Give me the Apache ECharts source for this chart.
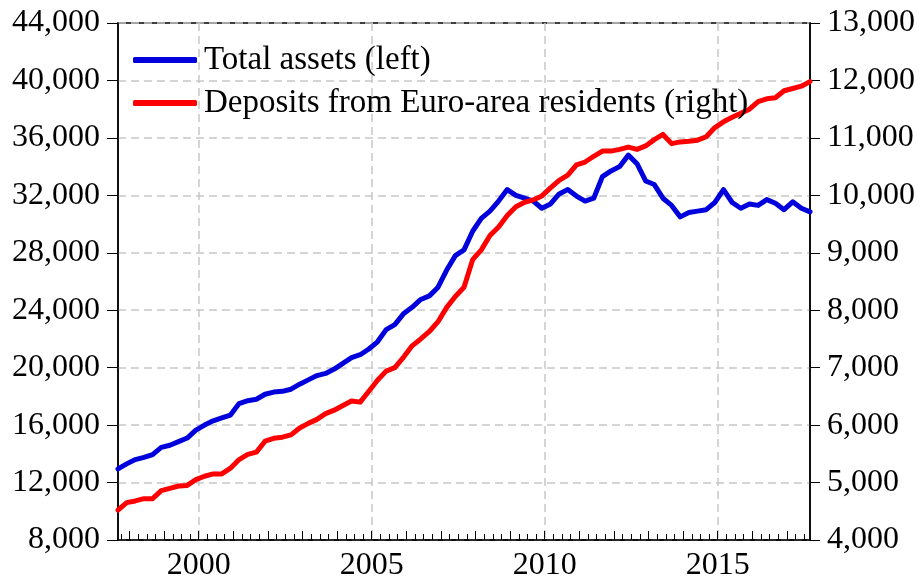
<!DOCTYPE html>
<html lang="en">

<head>
    <meta charset="UTF-8">
    <title>Total assets and deposits</title>
    <script src="https://cdn.jsdelivr.net/npm/echarts@6/dist/echarts.min.js"></script>
    <style>
        body { margin: 0; background: #fff; }
    </style>
</head>

<body>
    <div id="main" style="width:919px; height:582px"></div>
    <script>
        // quarterly readings, Sep 1997 .. Sep 2017
        var assets = [
            12950, 13300, 13600, 13750, 13950, 14450, 14600, 14850, 15100, 15650,
            16000, 16300, 16500, 16700, 17500, 17700, 17800, 18150, 18300, 18350,
            18500, 18850, 19150, 19450, 19600, 19900, 20300, 20700, 20900, 21300,
            21800, 22650, 23000, 23750, 24200, 24750, 25000, 25600, 26800, 27800,
            28200, 29500, 30400, 30900, 31600, 32400, 32000, 31800, 31600, 31100,
            31400, 32100, 32400, 31950, 31600, 31800, 33300, 33700, 34000, 34800,
            34200, 33000, 32750, 31800, 31300, 30500, 30800, 30900, 31000, 31500,
            32400, 31500, 31100, 31400, 31300, 31700, 31450, 31000, 31550, 31100,
            30850
        ]
        var deposits = [
            4520, 4650, 4680, 4720, 4720, 4860, 4900, 4940, 4950, 5050,
            5110, 5150, 5150, 5250, 5400, 5490, 5530, 5720, 5770, 5790,
            5830, 5950, 6030, 6100, 6200, 6260, 6340, 6420, 6400, 6590,
            6780, 6940, 7000, 7180, 7380, 7500, 7630, 7800, 8050, 8240,
            8400, 8880, 9050, 9300, 9450, 9650, 9800, 9880, 9920, 9990,
            10130, 10260, 10350, 10530, 10580, 10680, 10770, 10770, 10800, 10840,
            10800, 10860, 10970, 11060, 10900, 10930, 10940, 10960, 11020, 11180,
            11280, 11360, 11430, 11500, 11630, 11680, 11700, 11820, 11860, 11900,
            11980
        ]
        var seriesNames = ['Total assets (left)', 'Deposits from Euro-area residents (right)']
        var labelYears = [2000, 2005, 2010, 2015]

        // monthly categories from 1997-09 to 2017-09
        var months = []
        for (var y = 1997; y <= 2017; y++) {
            for (var m = 1; m <= 12; m++) {
                if (y == 1997 && m < 9) continue
                if (y == 2017 && m > 9) break
                months.push(y + '-' + (m < 10 ? '0' + m : m))
            }
        }
        var quarters = []
        for (var i = 0; i < assets.length; i++) {
            quarters.push(months[i * 3])
        }
        var assetsData = []
        var depositsData = []
        for (var i = 0; i < quarters.length; i++) {
            assetsData.push([quarters[i], assets[i]])
            depositsData.push([quarters[i], deposits[i]])
        }

        function monthOf(i) {
            return parseInt(months[i].slice(5), 10)
        }

        function yearOf(i) {
            return parseInt(months[i].slice(0, 4), 10)
        }

        function isLabelMonth(i) {
            return monthOf(i) == 1 && labelYears.indexOf(yearOf(i)) >= 0
        }

        var font = "'Liberation Serif', 'Times New Roman', serif"
        var myCharts = echarts.init(document.getElementById('main'))
        var option = {
            animation: false,
            backgroundColor: '#fff',
            textStyle: {
                fontFamily: font
            },
            grid: {
                left: 118,
                right: 109,
                top: 23,
                bottom: 40,
                show: true,
                borderColor: '#000',
                borderWidth: 1.5
            },
            legend: {
                orient: 'vertical',
                left: 128,
                top: 38,
                itemWidth: 64,
                itemHeight: 6,
                itemGap: 9,
                icon: 'roundRect',
                data: seriesNames,
                textStyle: {
                    fontFamily: font,
                    fontSize: 33,
                    color: '#000',
                    lineHeight: 34,
                    padding: [0, 0, 0, 2]
                }
            },
            xAxis: [{
                type: 'category',
                data: months,
                boundaryGap: false,
                axisLine: {
                    lineStyle: {
                        color: '#000',
                        width: 1.5
                    }
                },
                axisTick: {
                    inside: true,
                    length: 6,
                    interval: function(i) {
                        return monthOf(i) % 3 == 1
                    },
                    lineStyle: {
                        color: '#000'
                    }
                },
                axisLabel: {
                    interval: function(i) {
                        return isLabelMonth(i)
                    },
                    formatter: function(v) {
                        return v.slice(0, 4)
                    },
                    fontFamily: font,
                    fontSize: 32,
                    color: '#000',
                    margin: 10
                },
                splitLine: {
                    show: true,
                    interval: function(i) {
                        return isLabelMonth(i)
                    },
                    lineStyle: {
                        color: '#c8c8c8',
                        width: 1.5,
                        type: [8, 5]
                    }
                }
            }, {
                // longer ticks at each year
                type: 'category',
                data: months,
                position: 'bottom',
                boundaryGap: false,
                axisLine: {
                    show: false
                },
                axisTick: {
                    inside: true,
                    length: 9,
                    interval: function(i) {
                        return monthOf(i) == 1
                    },
                    lineStyle: {
                        color: '#000'
                    }
                },
                axisLabel: {
                    show: false
                },
                splitLine: {
                    show: false
                }
            }],
            yAxis: [{
                type: 'value',
                min: 8000,
                max: 44000,
                interval: 4000,
                axisLine: {
                    show: true,
                    lineStyle: {
                        color: '#000',
                        width: 1.5
                    }
                },
                axisTick: {
                    show: true,
                    length: 11,
                    lineStyle: {
                        color: '#000'
                    }
                },
                axisLabel: {
                    formatter: function(v) {
                        return echarts.format.addCommas(v)
                    },
                    fontFamily: font,
                    fontSize: 32,
                    color: '#000',
                    margin: 18
                },
                splitLine: {
                    show: true,
                    lineStyle: {
                        color: '#c8c8c8',
                        width: 1.5,
                        type: [8, 5]
                    }
                }
            }, {
                type: 'value',
                min: 4000,
                max: 13000,
                interval: 1000,
                position: 'right',
                axisLine: {
                    show: true,
                    lineStyle: {
                        color: '#000',
                        width: 1.5
                    }
                },
                axisTick: {
                    show: true,
                    length: 10,
                    lineStyle: {
                        color: '#000'
                    }
                },
                axisLabel: {
                    formatter: function(v) {
                        return echarts.format.addCommas(v)
                    },
                    fontFamily: font,
                    fontSize: 32,
                    color: '#000',
                    margin: 17
                },
                splitLine: {
                    show: false
                }
            }],
            series: [{
                name: seriesNames[0],
                type: 'line',
                yAxisIndex: 0,
                data: assetsData,
                showSymbol: false,
                symbol: 'none',
                color: '#0000dd',
                lineStyle: {
                    width: 5,
                    color: '#0000dd',
                    join: 'round',
                    cap: 'round'
                }
            }, {
                name: seriesNames[1],
                type: 'line',
                yAxisIndex: 1,
                data: depositsData,
                showSymbol: false,
                symbol: 'none',
                color: '#ff0000',
                lineStyle: {
                    width: 5,
                    color: '#ff0000',
                    join: 'round',
                    cap: 'round'
                }
            }]
        }
        myCharts.setOption(option)
    </script>
</body>

</html>
